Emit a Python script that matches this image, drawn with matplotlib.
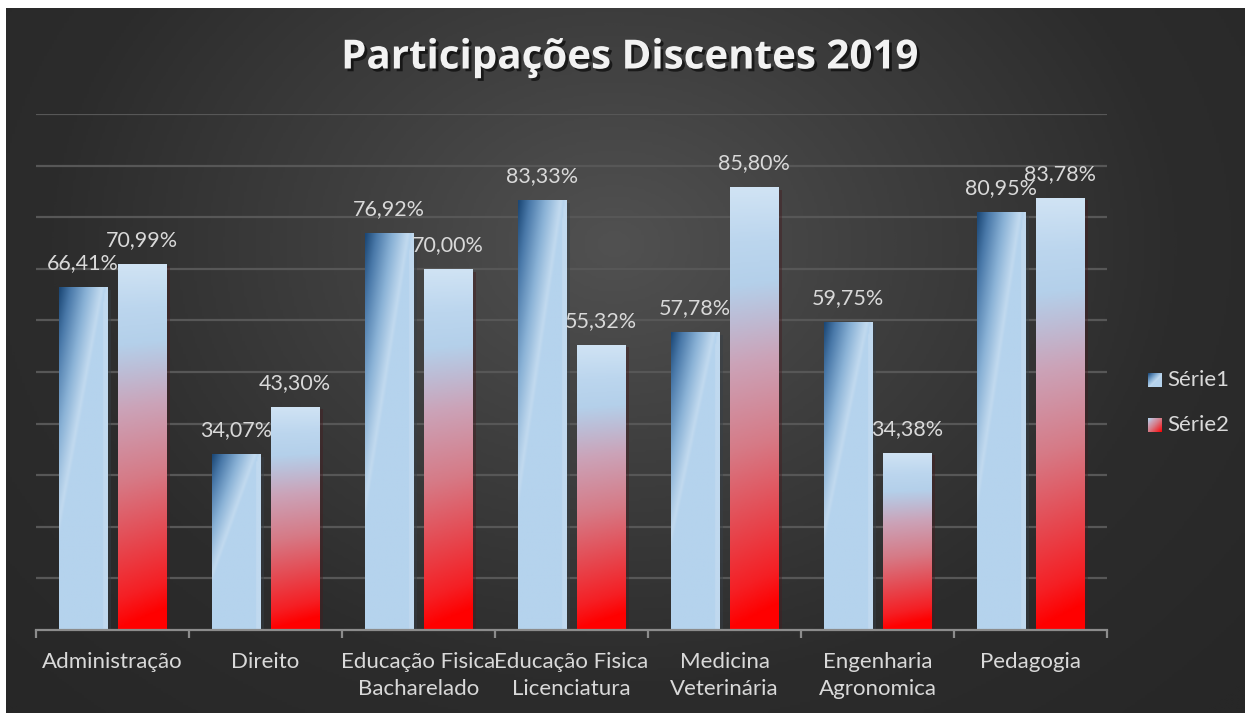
import numpy as np
import matplotlib as mpl
import matplotlib.pyplot as plt
import matplotlib.patheffects as pe
from matplotlib.colors import LinearSegmentedColormap

mpl.rc("font", family=["Lato", "DejaVu Sans"])

# data
cursos = ["Administração", "Direito", "Educação Fisica\nBacharelado",
          "Educação Fisica\nLicenciatura", "Medicina\nVeterinária",
          "Engenharia\nAgronomica", "Pedagogia"]
serie1 = [66.41, 34.07, 76.92, 83.33, 57.78, 59.75, 80.95]
serie2 = [70.99, 43.30, 70.00, 55.32, 85.80, 34.38, 83.78]
series_nomes = ["Série1", "Série2"]

W, H = 1245, 713
fig = plt.figure(figsize=(W / 100, H / 100), dpi=100, facecolor="white")

# radial dark background
bg = fig.add_axes([6 / W, 0, 1 - 6 / W, (H - 8) / H])
yy, xx = np.mgrid[0:300, 0:500]
cx, cy = 245, 100
r = np.sqrt(((xx - cx) / 340.0) ** 2 + ((yy - cy) / 280.0) ** 2)
r = np.clip(r, 0, 1)
bgmap = LinearSegmentedColormap.from_list("bg", ["#515151", "#3e3e3e", "#2c2c2c", "#272727"])
bg.imshow(r, cmap=bgmap, aspect="auto", interpolation="bilinear", vmin=0, vmax=1)
bg.set_axis_off()

ax = fig.add_axes([36 / W, 83 / H, 1071 / W, 516 / H])
ax.set_facecolor("none")

# gradients for the bars
dark_blue = LinearSegmentedColormap.from_list(
    "s1", [(0.0, "#1c4876"), (0.25, "#4b7aaa"), (0.6, "#8ab2d6"), (0.93, "#c2daef"), (1.0, "#b5d3ed")])
red_map = LinearSegmentedColormap.from_list(
    "s2", [(0.0, "#d0e3f4"), (0.12, "#bcd6ee"), (0.22, "#b4d0ea"), (0.3, "#bdbcd5"),
           (0.4, "#cba3b8"), (0.6, "#d67a86"), (0.78, "#e6474f"), (0.92, "#f51f24"), (1.0, "#ff0000")])


def grad_s1(n=120, m=40):
    d, x = np.mgrid[0:n, 0:m]
    d = d / (n - 1.0)
    x = x / (m - 1.0)
    s = x + 1.3 * d
    t = np.clip(s / 0.95, 0, 1)
    img = dark_blue(t)
    flat = s > 0.97
    img[flat] = mpl.colors.to_rgba("#b5d3ed")
    edge = x > 0.9
    img[edge & flat] = mpl.colors.to_rgba("#c0d9ef")
    return img


def grad_s2(n=200, m=40):
    d, x = np.mgrid[0:n, 0:m]
    d = d / (n - 1.0)
    x = x / (m - 1.0)
    t = np.clip(d + 0.06 * x * d, 0, 1)
    return red_map(t)


width = 0.314
off = 0.193
pos = np.arange(len(cursos))
bars1 = ax.bar(pos - off, serie1, width, color="#b5d3ed", zorder=3,
               path_effects=[pe.SimplePatchShadow(offset=(3, -2), alpha=0.45), pe.Normal()])
bars2 = ax.bar(pos + off, serie2, width, color="#e1606a", zorder=3,
               path_effects=[pe.SimplePatchShadow(offset=(3, -2), alpha=0.45), pe.Normal()])

for bars, gfun in [(bars1, grad_s1), (bars2, grad_s2)]:
    for b in bars:
        x0, y0 = b.get_x(), b.get_y()
        im = ax.imshow(gfun(), extent=[x0, x0 + b.get_width(), y0, y0 + b.get_height()],
                       aspect="auto", interpolation="bilinear", zorder=4)
        im.set_clip_path(b)

ax.set_xlim(-0.5, len(cursos) - 0.5)
ax.set_ylim(0, 100)

for bars, vals in [(bars1, serie1), (bars2, serie2)]:
    for b, v in zip(bars, vals):
        ax.annotate(("%.2f%%" % v).replace(".", ","),
                    (b.get_x() + b.get_width() / 2, b.get_height()),
                    xytext=(0, 10), textcoords="offset points",
                    ha="center", va="bottom", color="#d9d9d9", fontsize=15.5, zorder=6)

# grid and axis
ax.set_yticks(np.arange(10, 101, 10))
ax.yaxis.grid(True, color="#575757", linewidth=1.6)
ax.set_axisbelow(True)
ax.tick_params(axis="y", length=0, labelleft=False)
for s in ["left", "right", "top"]:
    ax.spines[s].set_visible(False)
ax.spines["bottom"].set_color("#8c8c8c")
ax.spines["bottom"].set_linewidth(1.6)
ax.spines["bottom"].set_zorder(5)

ax.set_xticks(np.arange(-0.5, len(cursos), 1.0))
ax.set_xticklabels([])
ax.tick_params(axis="x", which="major", direction="out", length=6, width=1.6, color="#8c8c8c")
ax.set_xticks(pos, minor=True)
ax.set_xticklabels(cursos, minor=True, color="#d9d9d9", fontsize=16, linespacing=1.4)
ax.tick_params(axis="x", which="minor", length=0, pad=16)

# title
fig.text(629 / W, 1 - 58 / H, "Participações Discentes 2019", ha="center", va="center",
         fontsize=29, fontweight="bold", color="#f2f2f2", family=["Open Sans", "DejaVu Sans"],
         path_effects=[pe.withSimplePatchShadow(offset=(2, -2), shadow_rgbFace="black", alpha=0.6)])

# legend
for i, nome in enumerate(series_nomes):
    ycen = 380 + 45 * i
    lax = fig.add_axes([1148 / W, 1 - (ycen + 7) / H, 14 / W, 14 / H])
    d, x = np.mgrid[0:20, 0:20] / 19.0
    if i == 0:
        lax.imshow(dark_blue(np.clip((x + d) / 1.2, 0, 1)), aspect="auto")
    else:
        lax.imshow(red_map(np.clip(0.2 + 0.8 * (x + d) / 2, 0, 1)), aspect="auto")
    lax.set_axis_off()
    fig.text(1167 / W, 1 - ycen / H, nome, ha="left", va="center", color="#d9d9d9", fontsize=16)

plt.savefig("out.png", dpi=100, facecolor=fig.get_facecolor())
